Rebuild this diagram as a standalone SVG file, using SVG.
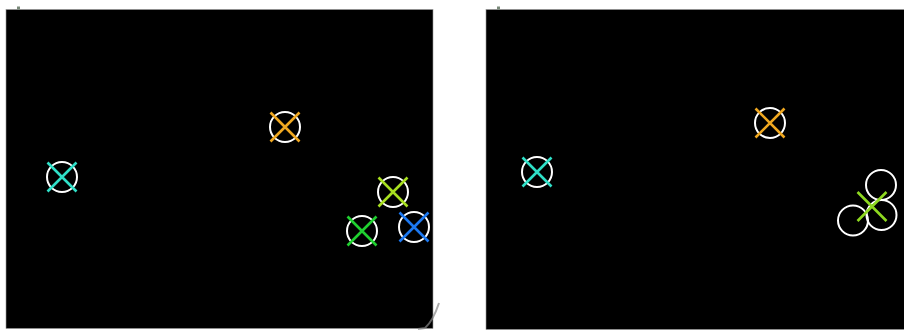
<svg xmlns="http://www.w3.org/2000/svg" width="904" height="331" viewBox="0 0 904 331">
<defs>
<style>
.panel{fill:#000;stroke:#9a9a9a;stroke-width:0.6}
.ring{fill:none;stroke:#fff;stroke-width:2}
.x{stroke-width:2.6;stroke-linecap:butt}
</style>
<g id="mk">
<path class="x" d="M-14.5,-14.5L14.5,14.5M-14.5,14.5L14.5,-14.5"/>
</g>
</defs>
<rect width="904" height="331" fill="#fff"/>
<g id="left-panel">
<rect class="panel" x="6" y="9.5" width="427" height="319"/>
<rect x="17" y="6.5" width="3" height="3" fill="#7a8a7a"/>
</g>
<g id="right-panel">
<rect class="panel" x="486" y="9.5" width="420" height="320"/>
<rect x="497" y="6.5" width="3" height="3" fill="#7a8a7a"/>
</g>
<path d="M439,303 C436,312 432,322 425,328 L418,329" fill="none" stroke="#888" stroke-width="2" opacity="0.7"/>
<g id="l-cyan"><circle class="ring" cx="62" cy="177" r="15"/><use href="#mk" x="62" y="177" stroke="#2fe0c8"/></g>
<g id="l-orange"><circle class="ring" cx="285" cy="127" r="15"/><use href="#mk" x="285" y="127" stroke="#f0a820"/></g>
<g id="l-lime"><circle class="ring" cx="393" cy="192" r="15"/><use href="#mk" x="393" y="192" stroke="#a8e020"/></g>
<g id="l-green"><circle class="ring" cx="362" cy="231" r="15"/><use href="#mk" x="362" y="231" stroke="#20d030"/></g>
<g id="l-blue"><circle class="ring" cx="414" cy="227" r="15"/><use href="#mk" x="414" y="227" stroke="#1c78f0"/></g>
<g id="r-cyan"><circle class="ring" cx="537" cy="172" r="15"/><use href="#mk" x="537" y="172" stroke="#2fe0c8"/></g>
<g id="r-orange"><circle class="ring" cx="770" cy="123" r="15"/><use href="#mk" x="770" y="123" stroke="#f0a820"/></g>
<g id="r-cluster">
<circle class="ring" cx="881" cy="185" r="15"/>
<circle class="ring" cx="881.5" cy="215" r="15"/>
<circle class="ring" cx="853" cy="220.5" r="15"/>
<use href="#mk" x="872" y="206.5" stroke="#8ed820"/>
</g>
</svg>
